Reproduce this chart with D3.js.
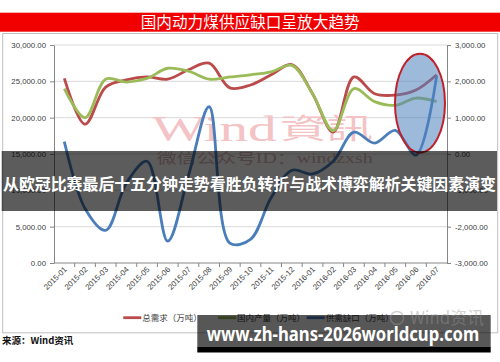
<!DOCTYPE html>
<html><head><meta charset="utf-8">
<script src="https://cdn.jsdelivr.net/npm/d3@7"></script>
<style>html,body{margin:0;padding:0;background:#fff;overflow:hidden}svg{display:block}</style>
</head><body><svg id="c" width="500" height="362"></svg>
<script>
const categories = ["2015-01","2015-02","2015-03","2015-04","2015-05","2015-06","2015-07","2015-08","2015-09","2015-10","2015-11","2015-12","2016-01","2016-02","2016-03","2016-04","2016-05","2016-06","2016-07"];
const demand =     [25400, 19100, 24200, 25200, 25600, 25300, 26600, 27500, 24100, 24500, 25900, 27300, 23300, 18000, 25600, 23300, 23100, 23800, 25900];
const production = [24000, 20000, 25300, 24900, 25400, 26800, 26400, 25300, 25600, 25900, 26300, 27200, 23300, 18200, 24000, 22200, 21700, 22700, 22200];
const gap =        [340, -1500, -2100, -800, -200, -2400, -600, 1300, -2450, -2350, -1200, -450, -550, -200, 600, 300, 650, -30, 2150];
const leftTicks = [0, 5000, 10000, 15000, 20000, 25000, 30000];
const rightTicks = [-3000, -2000, -1000, 0, 1000, 2000, 3000];
const seriesNames = ["总需求（万吨）", "国内产量（万吨）", "供需缺口（万吨）"];
const seriesColors = ["#bb4a4a", "#9bbb59", "#4a7ebb"];
const title = "国内动力煤供应缺口呈放大趋势";
const bannerText = "从欧冠比赛最后十五分钟走势看胜负转折与战术博弈解析关键因素演变";
const siteText = "www.zh-hans-2026worldcup.com";
const sourceText = "来源：Wind资讯";

const svg = d3.select("#c");
const plot = {l: 54, r: 447, t: 45, b: 263};
const x = d3.scaleBand().domain(categories).range([plot.l, plot.r]);
const bw = x.bandwidth();
const xc = c => x(c) + bw / 2;
const yL = d3.scaleLinear().domain([0, 30000]).range([plot.b, plot.t]);
const yR = d3.scaleLinear().domain([-3000, 3000]).range([plot.b, plot.t]);
const fmt = v => d3.format(",.2f")(v).replace("\u2212", "-");
const cjk = "'Noto Sans CJK SC','Noto Sans',sans-serif";

svg.append("rect").attr("width", 500).attr("height", 362).attr("fill", "#fff");

// Title band
svg.append("rect").attr("x", 0).attr("y", 12.7).attr("width", 500).attr("height", 19).attr("fill", "#f20000");
svg.append("text").attr("x", 140.7).attr("y", 28.3).attr("textLength", 219).attr("lengthAdjust", "spacingAndGlyphs")
  .attr("font-family", cjk).attr("font-size", 15.5).attr("fill", "#fff").text(title);

// chart border
svg.append("rect").attr("x", 2.7).attr("y", 33.5).attr("width", 495).attr("height", 299.3)
  .attr("fill", "none").attr("stroke", "#bfbfbf").attr("stroke-width", 1);

// gridlines
svg.append("g").selectAll("line").data(leftTicks.filter(t => t > 0)).join("line")
  .attr("x1", plot.l).attr("x2", plot.r).attr("y1", d => yL(d)).attr("y2", d => yL(d))
  .attr("stroke", "#d9d9d9").attr("stroke-width", 1);

// watermark
svg.append("text").attr("x", 151.7).attr("y", 141).attr("textLength", 125).attr("lengthAdjust", "spacingAndGlyphs")
  .attr("font-family", "'Liberation Serif',serif").attr("font-size", 35).attr("fill", "#f3c3c5").text("Wind");
svg.append("text").attr("x", 280).attr("y", 139).attr("textLength", 93).attr("lengthAdjust", "spacingAndGlyphs")
  .attr("font-family", "'Noto Sans CJK TC',sans-serif").attr("font-size", 28).attr("fill", "#f3c3c5").text("資訊");
svg.append("text").attr("x", 156.7).attr("y", 163).attr("textLength", 216).attr("lengthAdjust", "spacingAndGlyphs")
  .attr("font-family", "'Liberation Serif','Noto Sans CJK SC',serif").attr("font-size", 14).attr("fill", "#d9b3b3").text("微信公众号ID：windzxsh");

// axes
function styleAxis(g) {
  g.selectAll("path.domain").attr("stroke", "#868686");
  g.selectAll(".tick line").attr("stroke", "#868686");
  g.selectAll(".tick text").attr("font-family", "'Liberation Sans',Arial,sans-serif").attr("font-size", 7.8).attr("fill", "#404040");
}
const gl = svg.append("g").attr("transform", `translate(${plot.l},0)`)
  .call(d3.axisLeft(yL).tickValues(leftTicks).tickFormat(fmt).tickSize(4).tickSizeOuter(0).tickPadding(4));
styleAxis(gl);
const gr = svg.append("g").attr("transform", `translate(${plot.r},0)`)
  .call(d3.axisRight(yR).tickValues(rightTicks).tickFormat(fmt).tickSize(4).tickSizeOuter(0).tickPadding(4));
styleAxis(gr);

// x axis
const gx = svg.append("g");
gx.append("line").attr("x1", plot.l).attr("x2", plot.r).attr("y1", plot.b).attr("y2", plot.b).attr("stroke", "#868686");
gx.selectAll("line.tk").data(categories.slice(1)).join("line").attr("class", "tk")
  .attr("x1", d => x(d)).attr("x2", d => x(d)).attr("y1", plot.b).attr("y2", plot.b + 4).attr("stroke", "#868686");
gx.selectAll("text").data(categories).join("text")
  .attr("transform", d => `translate(${xc(d) + 3},${plot.b + 7}) rotate(-45)`)
  .attr("text-anchor", "end").attr("font-family", "'Liberation Sans',Arial,sans-serif")
  .attr("font-size", 7.8).attr("fill", "#404040").text(d => d);

// lines
const curve = d3.curveCatmullRom.alpha(0.5);
const lineL = d3.line().x((d, i) => xc(categories[i])).y(d => yL(d)).curve(curve);
const lineR = d3.line().x((d, i) => xc(categories[i])).y(d => yR(d)).curve(curve);
svg.append("path").attr("d", lineL(demand)).attr("fill", "none").attr("stroke", seriesColors[0]).attr("stroke-width", 2.8).attr("stroke-linejoin", "round");
svg.append("path").attr("d", lineL(production)).attr("fill", "none").attr("stroke", seriesColors[1]).attr("stroke-width", 2.8).attr("stroke-linejoin", "round");
svg.append("path").attr("d", lineR(gap)).attr("fill", "none").attr("stroke", seriesColors[2]).attr("stroke-width", 2.8).attr("stroke-linejoin", "round");

// highlight ellipse
svg.append("ellipse").attr("cx", xc("2016-06") + 4).attr("cy", yL(22000)).attr("rx", 25).attr("ry", 49.5)
  .attr("fill", "rgba(79,129,189,0.55)").attr("stroke", "#c0202a").attr("stroke-width", 2);

// legend
const legX = [123.3, 218, 306.7];
const lg = svg.append("g");
seriesNames.forEach((n, i) => {
  lg.append("line").attr("x1", legX[i]).attr("x2", legX[i] + 18).attr("y1", 317.7).attr("y2", 317.7)
    .attr("stroke", seriesColors[i]).attr("stroke-width", 2.8);
  lg.append("text").attr("x", legX[i] + 19).attr("y", 321).attr("font-family", cjk).attr("font-size", 8.5)
    .attr("fill", "#404040").text(n);
});

// source
svg.append("text").attr("x", 2).attr("y", 344).attr("font-family", cjk).attr("font-weight", "bold")
  .attr("font-size", 9.5).attr("fill", "#111").text(sourceText);

// overlay banner
svg.append("rect").attr("x", 1.7).attr("y", 151).attr("width", 495.3).attr("height", 60).attr("fill", "rgba(0,0,0,0.64)");
svg.append("text").attr("x", 3).attr("y", 190).attr("textLength", 493).attr("lengthAdjust", "spacingAndGlyphs")
  .attr("font-family", cjk).attr("font-weight", "bold").attr("font-size", 16).attr("fill", "#fff").text(bannerText);

// bottom site box
svg.append("rect").attr("x", 197.3).attr("y", 315).attr("width", 293.4).attr("height", 32).attr("fill", "rgba(0,0,0,0.66)");
svg.append("rect").attr("x", 197.3).attr("y", 347).attr("width", 293.4).attr("height", 5.5).attr("fill", "#000");
svg.append("circle").attr("cx", 397).attr("cy", 318).attr("r", 6.5).attr("fill", "none").attr("stroke", "rgba(150,150,150,0.45)").attr("stroke-width", 1.5);
svg.append("text").attr("x", 410).attr("y", 324).attr("textLength", 74).attr("lengthAdjust", "spacingAndGlyphs")
  .attr("font-family", "'Noto Sans CJK SC',sans-serif").attr("font-size", 17)
  .attr("fill", "rgba(150,150,150,0.45)").text("Wind资讯");
svg.append("text").attr("x", 206.7).attr("y", 341).attr("textLength", 272.5).attr("lengthAdjust", "spacingAndGlyphs")
  .attr("font-family", "'Noto Sans','Open Sans',sans-serif").attr("font-weight", "bold").attr("font-size", 19.5)
  .attr("fill", "#fff").text(siteText);
</script></body></html>
